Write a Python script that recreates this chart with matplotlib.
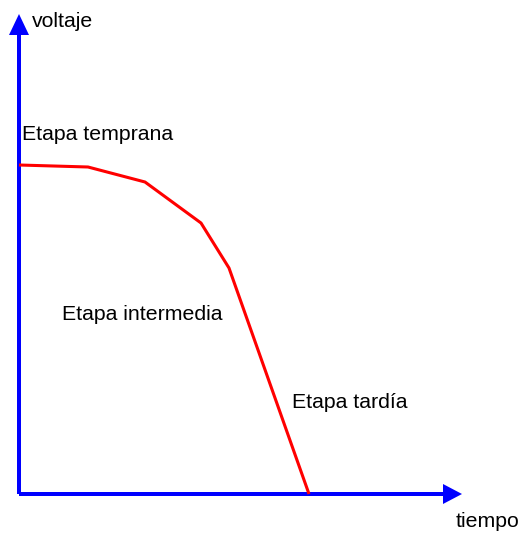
import matplotlib
matplotlib.use('Agg')
import matplotlib.pyplot as plt

# curve points (time, voltage)
time = [0, 69, 126, 182, 210, 290]
voltage = [329, 327, 312, 271, 226, 0]

stages = ['Etapa temprana', 'Etapa intermedia', 'Etapa tardía']
stage_pos = [(3, 354), (43, 174), (273, 86)]

plt.rcParams['font.family'] = ['Liberation Sans', 'DejaVu Sans']
fs = 15.3

fig = plt.figure(figsize=(5.21, 5.33), dpi=100)
ax = fig.add_axes([0, 0, 1, 1])
ax.set_xlim(-19, 502)
ax.set_ylim(-39, 494)
ax.axis('off')

# axes arrows
ax.arrow(0, 0, 424, 0, width=4, head_width=20, head_length=19,
         color='blue', length_includes_head=False, linewidth=0)
ax.arrow(0, 0, 0, 459, width=4, head_width=20, head_length=21,
         color='blue', length_includes_head=False, linewidth=0)

# curve
ax.plot(time, voltage, color='red', lw=2.2, solid_capstyle='butt')

ax.text(13, 467, 'voltaje', fontsize=fs, va='baseline', ha='left')
ax.text(437, -33, 'tiempo', fontsize=fs, va='baseline', ha='left')
for s, (x, y) in zip(stages, stage_pos):
    ax.text(x, y, s, fontsize=fs, va='baseline', ha='left')

fig.savefig('out.png', dpi=100)
